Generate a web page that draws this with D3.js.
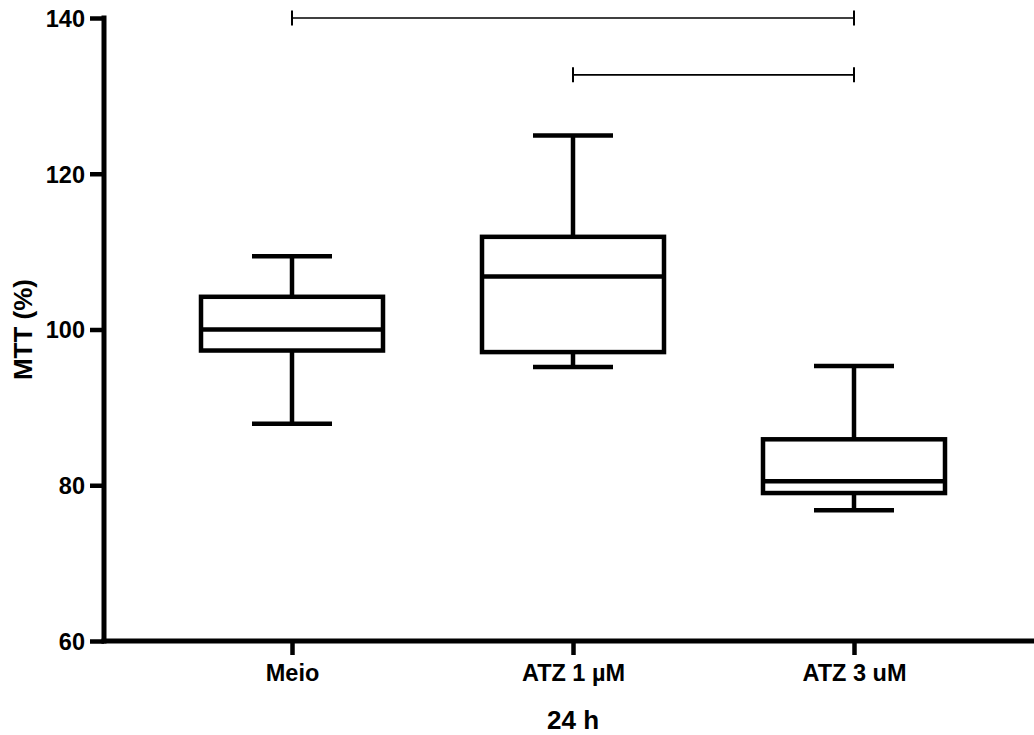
<!DOCTYPE html>
<html>
<head>
<meta charset="utf-8">
<script src="https://cdn.jsdelivr.net/npm/d3@7/dist/d3.min.js"></script>
<style>
  html, body { margin: 0; padding: 0; background: #fff; }
  text { font-family: "Liberation Sans", Arial, sans-serif; font-weight: bold; fill: #000; }
</style>
</head>
<body>
<svg id="chart" width="1034" height="735"></svg>
<script>
const categories = ["Meio", "ATZ 1 µM", "ATZ 3 uM"];
const whiskerLow  = [87.9, 95.2, 76.8];
const q1          = [97.3, 97.1, 79.0];
const median      = [100.0, 106.8, 80.5];
const q3          = [104.2, 111.9, 85.9];
const whiskerHigh = [109.4, 124.9, 95.3];
const yTicks = [60, 80, 100, 120, 140];
const comparisons = [
  { from: "Meio", to: "ATZ 3 uM", level: 140 },
  { from: "ATZ 1 µM", to: "ATZ 3 uM", level: 132.7 }
];
const xTitle = "24 h";
const yTitle = "MTT (%)";

const svg = d3.select("#chart");
const axisX = 104, axisY = 641;

const y = d3.scaleLinear().domain([60, 140]).range([641, 18]);
const x = d3.scalePoint().domain(categories).range([292, 854]);

const boxHalf = 91, capHalf = 40, lw = 4.5;

// Y axis ticks
const gy = svg.append("g").attr("transform", `translate(${axisX},0)`)
  .call(d3.axisLeft(y).tickValues(yTicks).tickSize(14).tickPadding(5).tickSizeOuter(0));
gy.select(".domain").remove();
gy.selectAll(".tick line").attr("stroke", "#000").attr("stroke-width", lw);
gy.selectAll(".tick text").style("font-size", "23.5px").attr("font-family", null).attr("dy", "0.36em");

// X axis ticks
const gx = svg.append("g").attr("transform", `translate(0,${axisY})`)
  .call(d3.axisBottom(x).tickSize(14).tickPadding(9).tickSizeOuter(0));
gx.select(".domain").remove();
gx.selectAll(".tick line").attr("stroke", "#000").attr("stroke-width", lw);
gx.selectAll(".tick text").style("font-size", "23.5px").attr("font-family", null);

// Axis lines
svg.append("line").attr("x1", axisX).attr("x2", axisX).attr("y1", y(140) - 2.5).attr("y2", axisY + 2.5)
  .attr("stroke", "#000").attr("stroke-width", 5);
svg.append("line").attr("x1", axisX - 2.5).attr("x2", 1034).attr("y1", axisY).attr("y2", axisY)
  .attr("stroke", "#000").attr("stroke-width", 5);

// Boxes
const boxes = svg.append("g").selectAll("g").data(categories).join("g");
boxes.each(function(c, i) {
  const g = d3.select(this);
  const cx = x(c);
  g.append("line").attr("x1", cx).attr("x2", cx).attr("y1", y(q3[i])).attr("y2", y(whiskerHigh[i]))
    .attr("stroke", "#000").attr("stroke-width", lw);
  g.append("line").attr("x1", cx).attr("x2", cx).attr("y1", y(q1[i])).attr("y2", y(whiskerLow[i]))
    .attr("stroke", "#000").attr("stroke-width", lw);
  g.append("line").attr("x1", cx - capHalf).attr("x2", cx + capHalf).attr("y1", y(whiskerHigh[i])).attr("y2", y(whiskerHigh[i]))
    .attr("stroke", "#000").attr("stroke-width", lw);
  g.append("line").attr("x1", cx - capHalf).attr("x2", cx + capHalf).attr("y1", y(whiskerLow[i])).attr("y2", y(whiskerLow[i]))
    .attr("stroke", "#000").attr("stroke-width", lw);
  g.append("rect").attr("x", cx - boxHalf).attr("width", 2 * boxHalf)
    .attr("y", y(q3[i])).attr("height", y(q1[i]) - y(q3[i]))
    .attr("fill", "#fff").attr("stroke", "#000").attr("stroke-width", lw);
  g.append("line").attr("x1", cx - boxHalf).attr("x2", cx + boxHalf).attr("y1", y(median[i])).attr("y2", y(median[i]))
    .attr("stroke", "#000").attr("stroke-width", lw);
});

// Comparison bars
const cg = svg.append("g");
comparisons.forEach(cmp => {
  const yy = y(cmp.level);
  const xa = x(cmp.from), xb = x(cmp.to);
  cg.append("line").attr("x1", xa).attr("x2", xb).attr("y1", yy).attr("y2", yy)
    .attr("stroke", "#000").attr("stroke-width", 1.6);
  [xa, xb].forEach(xx => {
    cg.append("line").attr("x1", xx).attr("x2", xx).attr("y1", yy - 7.5).attr("y2", yy + 7.5)
      .attr("stroke", "#000").attr("stroke-width", 2);
  });
});

// Titles
svg.append("text").attr("x", x("ATZ 1 µM")).attr("y", 729).attr("text-anchor", "middle")
  .style("font-size", "26px").text(xTitle);
svg.append("text").attr("transform", `translate(32,${y(100)}) rotate(-90)`).attr("text-anchor", "middle")
  .style("font-size", "26px").text(yTitle);
</script>
</body>
</html>
